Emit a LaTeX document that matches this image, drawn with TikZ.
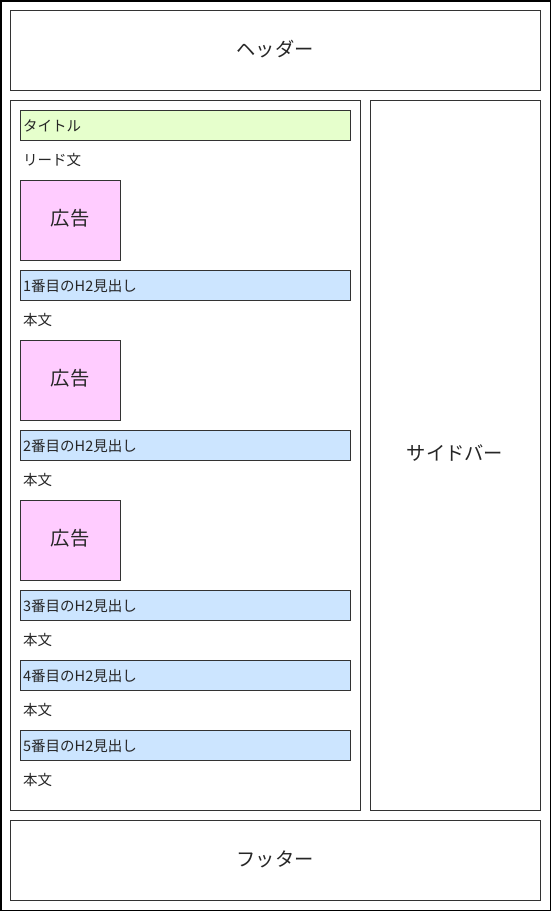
\documentclass[tikz,border=0pt]{standalone}
\usepackage{fontspec}
\newfontfamily\jp{Noto Sans CJK JP}
\definecolor{titlegreen}{HTML}{E6FFCC}
\definecolor{adpink}{HTML}{FFCCFF}
\definecolor{hblue}{HTML}{CCE5FF}
\definecolor{edge}{HTML}{333333}
\begin{document}
\begin{tikzpicture}[x=1pt,y=-1pt,
  box/.style={draw=edge,line width=1pt,fill=white},
  big/.style={font=\jp\fontsize{19.3}{21}\selectfont,text=black!85},
  small/.style={font=\jp\fontsize{14.5}{16}\selectfont,text=black!85},
  bar/.style={draw=edge,line width=1pt},
  lbl/.style={small,anchor=west,inner sep=0pt}]
\useasboundingbox (0,0) rectangle (551,911);
\draw[draw=black,line width=1.5pt] (0.75,0.75) rectangle (550.25,910.25);
% header, footer, sidebar, main
\draw[box] (10,10) rectangle (540,90);
\node[big] (header) at (275,49) {ヘッダー};
\draw[box] (10,820) rectangle (540,900);
\node[big] (footer) at (275,859) {フッター};
\draw[box] (370,100) rectangle (540,810);
\node[big] (sidebar) at (455,453) {サイドバー};
\draw[box] (10,100) rectangle (360,810);
% title
\draw[bar,fill=titlegreen] (20,110) rectangle (350,140);
\node[lbl] (title) at (23,126) {タイトル};
\node[lbl] (lead) at (23,160) {リード文};
% ads
\foreach \y/\n in {180/ad1,340/ad2,500/ad3}{
  \draw[bar,fill=adpink] (20,\y) rectangle (120,\y+80);
  \node[big] (\n) at (70,\y+38) {広告};
}
% H2 bars and body texts
\foreach \y/\k in {270/1,430/2,590/3,660/4,730/5}{
  \draw[bar,fill=hblue] (20,\y) rectangle (350,\y+30);
  \node[lbl] (h\k) at (23,\y+16) {\k 番目のH2見出し};
  \node[lbl] (b\k) at (23,\y+50) {本文};
}
\end{tikzpicture}
\end{document}
